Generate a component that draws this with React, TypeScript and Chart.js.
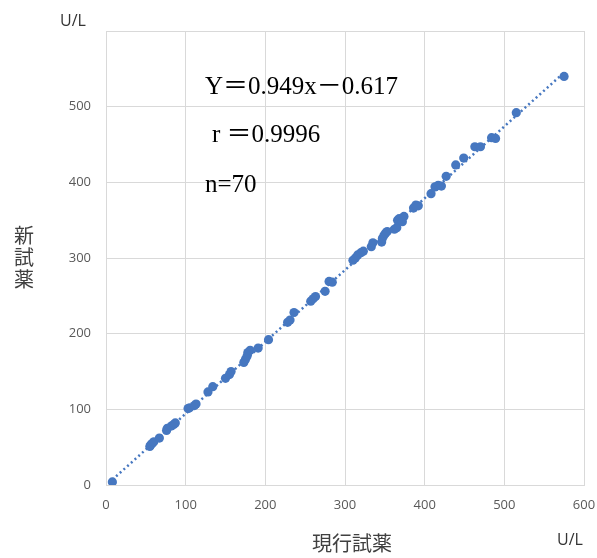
import React, { useEffect, useRef } from "react";
import { Chart, registerables } from "chart.js";

Chart.register(...registerables);

// 現行試薬 (x) values, U/L
const currentReagent: number[] = [
  8, 55, 56, 58, 60, 67, 76, 77, 82, 85,
  87, 103, 105, 111, 113, 128, 134, 150, 155, 157,
  173, 175, 177, 178, 181, 191, 204, 228, 231, 236,
  257, 260, 263, 275, 280, 284, 310, 313, 316, 320,
  323, 333, 335, 346, 347, 349, 351, 353, 362, 365,
  366, 368, 372, 374, 386, 389, 392, 408, 413, 417,
  421, 427, 439, 449, 463, 470, 484, 489, 515, 575,
];
// 新試薬 (y) values, U/L
const newReagent: number[] = [
  4, 51, 53, 55, 57, 62, 72, 75, 78, 80,
  82, 101, 102, 105, 107, 123, 130, 141, 146, 150,
  162, 166, 170, 175, 178, 181, 192, 215, 218, 228,
  243, 246, 249, 256, 269, 268, 297, 300, 304, 307,
  309, 315, 320, 321, 326, 330, 333, 335, 338, 340,
  350, 352, 348, 355, 366, 370, 369, 385, 394, 396,
  395, 408, 423, 432, 447, 447, 459, 458, 492, 540,
];

const slope = 0.949;
const intercept = -0.617;
const axisTicks: number[] = [0, 100, 200, 300, 400, 500, 600];

const equationText = "Y＝0.949x－0.617";
const rText = "r ＝0.9996";
const nText = "n=70";
const xTitle = "現行試薬";
const yTitle = ["新", "試", "薬"];
const unit = "U/L";

const BLUE = "#4677C0";
const GRID = "#d9d9d9";

const textPlugin = {
  id: "texts",
  afterDraw(chart: any) {
    const ctx = chart.ctx;
    ctx.save();
    ctx.fillStyle = "#000";
    ctx.textAlign = "left";
    ctx.textBaseline = "alphabetic";
    ctx.font = '25px "Liberation Serif", "Noto Sans CJK JP", serif';
    ctx.fillText(equationText, 205, 94);
    ctx.fillText(rText, 212, 142);
    ctx.fillText(nText, 205, 192);

    ctx.fillStyle = "#404040";
    ctx.font = '20px "Noto Sans CJK JP", sans-serif';
    ctx.textAlign = "center";
    ctx.textBaseline = "middle";
    yTitle.forEach((ch, i) => ctx.fillText(ch, 24, 235 + i * 22));
    ctx.fillText(xTitle, 352, 543);

    ctx.font = '16px "Open Sans", sans-serif';
    ctx.fillStyle = "#333";
    ctx.fillText(unit, 73, 21);
    ctx.fillText(unit, 570, 540);
    ctx.restore();
  },
};

export default function App() {
  const ref = useRef<HTMLCanvasElement | null>(null);

  useEffect(() => {
    if (!ref.current) return;
    const pts = currentReagent.map((x, i) => ({ x, y: newReagent[i] }));
    const xMin = Math.min(...currentReagent);
    const xMax = Math.max(...currentReagent);
    const trend = [
      { x: xMin, y: slope * xMin + intercept },
      { x: xMax, y: slope * xMax + intercept },
    ];
    const tickFont = { family: '"Open Sans", sans-serif', size: 13 };
    const chart = new Chart(ref.current, {
      type: "scatter",
      data: {
        datasets: [
          {
            data: pts,
            backgroundColor: BLUE,
            borderColor: BLUE,
            borderWidth: 0,
            pointRadius: 4.6,
            order: 0,
          },
          {
            type: "line",
            data: trend,
            borderColor: BLUE,
            borderWidth: 2.5,
            borderDash: [2, 3],
            pointRadius: 0,
            fill: false,
            order: 1,
          } as any,
        ],
      },
      options: {
        animation: false,
        responsive: false,
        events: [],
        layout: { padding: { left: 0, top: 31, right: 13, bottom: 0 } },
        plugins: {
          legend: { display: false },
          tooltip: { enabled: false },
        },
        scales: {
          x: {
            type: "linear",
            min: 0,
            max: 600,
            afterBuildTicks: (s: any) => {
              s.ticks = axisTicks.map((v) => ({ value: v }));
            },
            afterFit: (s: any) => {
              s.height = 73;
              s.paddingRight = 0;
              s.paddingLeft = 0;
            },
            ticks: {
              stepSize: 100,
              color: "#595959",
              font: tickFont,
              padding: 12,
              maxRotation: 0,
            },
            grid: { color: GRID, lineWidth: 1, drawTicks: false },
            border: { color: GRID },
          },
          y: {
            type: "linear",
            min: 0,
            max: 600,
            afterBuildTicks: (s: any) => {
              s.ticks = axisTicks.map((v) => ({ value: v }));
            },
            afterFit: (s: any) => {
              s.width = 106;
              s.paddingTop = 0;
              s.paddingBottom = 0;
            },
            ticks: {
              stepSize: 100,
              color: "#595959",
              font: tickFont,
              padding: 15,
              callback: (v: any) => (v === 600 ? "" : String(v)),
            },
            grid: { color: GRID, lineWidth: 1, drawTicks: false },
            border: { color: GRID },
          },
        },
      },
      plugins: [textPlugin],
    });
    return () => chart.destroy();
  }, []);

  return (
    <div style={{ position: "absolute", left: 0, top: 0, width: 597, height: 558, background: "#fff" }}>
      <canvas ref={ref} width={597} height={558} />
    </div>
  );
}
